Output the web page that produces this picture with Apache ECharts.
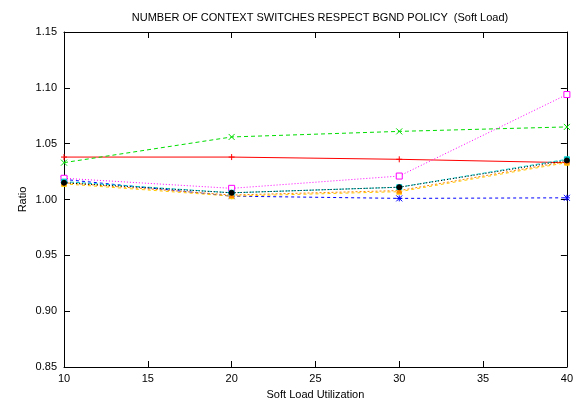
<!DOCTYPE html>
<html><head><meta charset="utf-8">
<script src="https://cdn.jsdelivr.net/npm/echarts@6/dist/echarts.min.js"></script>
<style>html,body{margin:0;padding:0;background:#fff}#c{width:576px;height:405px}</style>
</head><body><div id="c"></div>
<script>
const xValues = [10, 20, 30, 40];
const xTicks = [10, 15, 20, 25, 30, 35, 40];
const yTicks = [0.85, 0.90, 0.95, 1.00, 1.05, 1.10, 1.15];
const redSeries = [1.038, 1.038, 1.036, 1.033];
const greenSeries = [1.033, 1.056, 1.061, 1.065];
const blueSeries = [1.018, 1.003, 1.001, 1.0015];
const magentaSeries = [1.019, 1.010, 1.021, 1.094];
const cyanSeries = [1.016, 1.006, 1.011, 1.036];
const blackSeries = [1.015, 1.006, 1.011, 1.035];
const yellowSeries = [1.014, 1.003, 1.007, 1.033];
const orangeSeries = [1.015, 1.004, 1.008, 1.034];

const PLUS = 'path://M0,5L10,5M5,0L5,10';
const CROSS = 'path://M0,0L10,10M10,0L0,10';
const STAR = 'path://M0,5L10,5M5,0L5,10M0,0L10,10M10,0L0,10';

function mk(data, color, type, symbol, opts) {
  opts = opts || {};
  return {
    type: 'line',
    data: data.map((v, i) => [xValues[i], v]),
    lineStyle: {color: color, width: 1, type: type},
    symbol: symbol,
    symbolSize: opts.size || 6,
    itemStyle: {color: opts.fill || color, borderColor: color, borderWidth: 1},
    showSymbol: true,
    animation: false,
    z: opts.z || 2
  };
}

const chart = echarts.init(document.getElementById('c'), null, {renderer: 'canvas'});
const font = 'Liberation Sans, Arial, sans-serif';
const baseAxis = {
  axisLine: {show: true, lineStyle: {color: '#000', width: 1}},
  axisTick: {show: true, inside: true, length: 6, lineStyle: {color: '#000'}},
  splitLine: {show: false}
};
chart.setOption({
  backgroundColor: '#fff',
  animation: false,
  title: {
    text: 'NUMBER OF CONTEXT SWITCHES RESPECT BGND POLICY  (Soft Load)',
    left: 315, top: 7, textAlign: 'center',
    textStyle: {fontFamily: font, fontSize: 11, fontWeight: 'normal', color: '#000'}
  },
  grid: {left: 64, right: 9, top: 32, bottom: 38, containLabel: false},
  xAxis: [
    Object.assign({}, baseAxis, {
      type: 'value', min: xTicks[0], max: xTicks[xTicks.length - 1], interval: 5,
      name: 'Soft Load Utilization', nameLocation: 'middle', nameGap: 22,
      nameTextStyle: {fontFamily: font, fontSize: 11, color: '#000'},
      axisLabel: {fontFamily: font, fontSize: 11, color: '#000', margin: 6}
    }),
    Object.assign({}, baseAxis, {
      type: 'value', position: 'top', min: 10, max: 40, interval: 5,
      axisLabel: {show: false}
    })
  ],
  yAxis: [
    Object.assign({}, baseAxis, {
      type: 'value', min: yTicks[0], max: yTicks[yTicks.length - 1], interval: 0.05,
      name: 'Ratio', nameLocation: 'middle', nameGap: 36, nameMoveOverlap: false,
      nameTextStyle: {fontFamily: font, fontSize: 11, color: '#000'},
      axisLabel: {fontFamily: font, fontSize: 11, color: '#000', margin: 7,
        formatter: v => v.toFixed(2)}
    }),
    Object.assign({}, baseAxis, {
      type: 'value', position: 'right', min: 0.85, max: 1.15, interval: 0.05,
      axisLabel: {show: false}
    })
  ],
  series: [
    mk(redSeries, '#ff0000', 'solid', PLUS),
    mk(greenSeries, '#00dd00', [4, 3], CROSS),
    mk(blueSeries, '#0000ff', [3, 3], STAR),
    mk(magentaSeries, '#ff00ff', [1, 2], 'rect', {fill: '#fff', size: 6}),
    mk(cyanSeries, '#00cccc', [4, 2], 'rect', {size: 5}),
    mk(yellowSeries, '#ffcc00', [3, 3], 'triangle', {size: 5}),
    mk(orangeSeries, '#ff8800', [2, 2], 'triangle', {size: 5}),
    mk(blackSeries, '#000000', [1, 2], 'circle', {size: 5, z: 3})
  ]
});
</script>
</body></html>
